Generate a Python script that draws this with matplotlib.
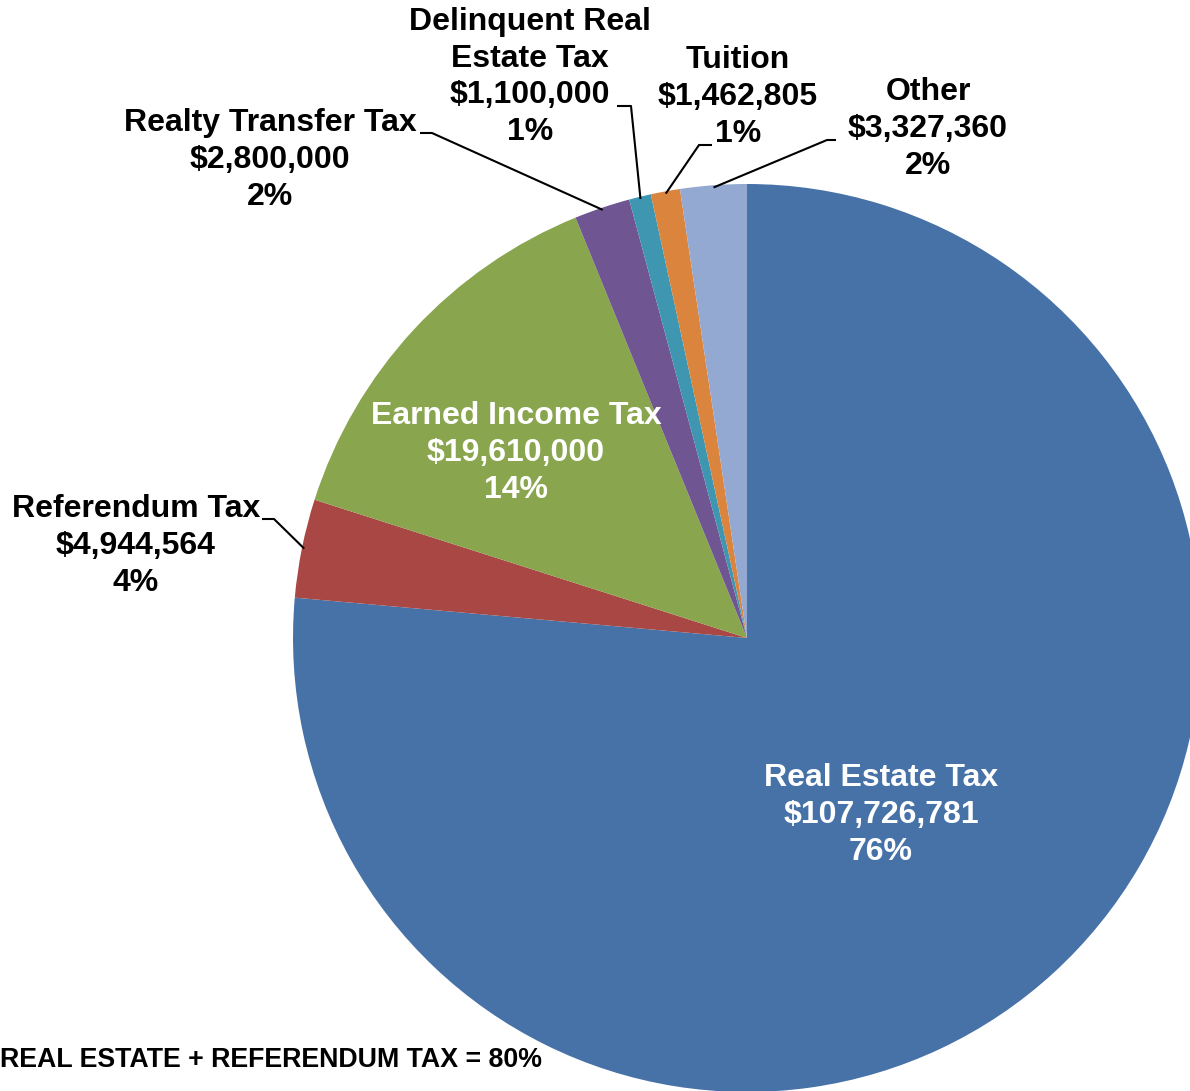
import numpy as np
import matplotlib.pyplot as plt

W, H = 1190, 1091

categories = ["Real Estate Tax", "Referendum Tax", "Earned Income Tax",
              "Realty Transfer Tax", "Delinquent Real\nEstate Tax", "Tuition", "Other"]
values = [107726781, 4944564, 19610000, 2800000, 1100000, 1462805, 3327360]
percents = ["76%", "4%", "14%", "2%", "1%", "1%", "2%"]
colors = ["#4672a8", "#a84744", "#89a54e", "#6f5592", "#3e96b0", "#db843d", "#94a9d1"]

plt.rcParams['font.family'] = ['Liberation Sans', 'DejaVu Sans']

fig = plt.figure(figsize=(W / 100, H / 100), dpi=100)
ax = fig.add_axes([0, 0, 1, 1])

cx, cy, r = 747, H - 638, 454
wedges, _ = ax.pie(values, colors=colors, startangle=90, counterclock=False,
                   center=(cx, cy), radius=r, frame=True,
                   wedgeprops=dict(linewidth=0))
ax.set_xlim(0, W)
ax.set_ylim(0, H)
ax.set_aspect('equal')
ax.axis('off')


def label(i):
    return "%s\n$%s\n%s" % (categories[i], format(values[i], ","), percents[i])


# (text x, text y, colour, leader start, leader elbow) in pixel coords (y down)
layout = {
    0: (881, 815, "white", None, None),
    1: (136, 546, "black", (262, 519), (274, 519)),
    2: (516, 453, "white", None, None),
    3: (270, 160, "black", (420, 133), (432, 133)),
    4: (530, 77, "black", (617, 106), (631, 106)),
    5: (738, 97, "black", (712, 145), (699, 145)),
    6: (928, 129, "black", (836, 140), (827, 140)),
}

for i, w in enumerate(wedges):
    tx, ty, col, start, elbow = layout[i]
    ax.text(tx, H - ty, label(i), ha="center", va="center", color=col,
            fontsize=23, fontweight="bold", linespacing=1.29)
    if start is not None:
        ang = np.deg2rad((w.theta1 + w.theta2) / 2)
        ex = cx + r * 0.995 * np.cos(ang)
        ey = cy + r * 0.995 * np.sin(ang)
        ax.plot([start[0], elbow[0], ex], [H - start[1], H - elbow[1], ey],
                color="black", lw=1.5, solid_capstyle="butt")

ax.text(0, H - 1060, "REAL ESTATE + REFERENDUM TAX = 80%", ha="left", va="center",
        fontsize=19.3, fontweight="bold")

fig.savefig("out.png", dpi=100)
